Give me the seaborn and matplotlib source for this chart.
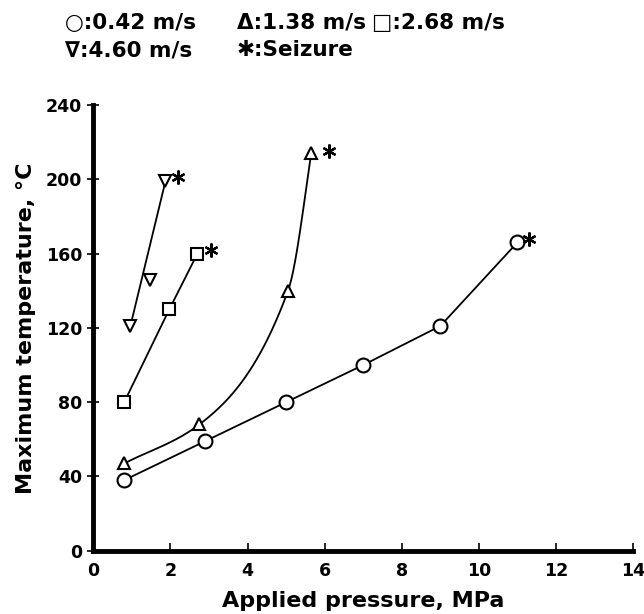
import numpy as np
import pandas as pd
import matplotlib
matplotlib.use("Agg")
import matplotlib.pyplot as plt
import seaborn as sns

# 데이터
p_042 = [0.8, 2.9, 5.0, 7.0, 9.0, 11.0]
t_042 = [38, 59, 80, 100, 121, 166]
p_138 = [0.8, 2.75, 5.05, 5.65]
t_138 = [47, 68, 140, 214]
p_268 = [0.8, 1.97, 2.7]
t_268 = [80, 130, 160]
p_460 = [0.96, 1.48, 1.87]
t_460 = [121, 146, 199]
seize_p = [11.3, 6.1, 3.05, 2.2]
seize_t = [168, 215, 162, 201]

xticks = [0, 2, 4, 6, 8, 10, 12, 14]
yticks = [0, 40, 80, 120, 160, 200, 240]


def pchip(x, y, n=200):
    # 단조 3차 보간 (1.38 m/s 곡선을 부드럽게 그리기 위함)
    x = np.asarray(x, float)
    y = np.asarray(y, float)
    h = np.diff(x)
    d = np.diff(y) / h
    m = np.zeros_like(y)
    for k in range(1, len(x) - 1):
        if d[k - 1] * d[k] > 0:
            w1 = 2 * h[k] + h[k - 1]
            w2 = h[k] + 2 * h[k - 1]
            m[k] = (w1 + w2) / (w1 / d[k - 1] + w2 / d[k])
    m[0] = d[0]  # 첫 구간은 거의 직선
    m[-1] = max(((2 * h[-1] + h[-2]) * d[-1] - h[-1] * d[-2]) / (h[-1] + h[-2]), 0)
    xs = np.linspace(x[0], x[-1], n)
    idx = np.clip(np.searchsorted(x, xs) - 1, 0, len(x) - 2)
    t = (xs - x[idx]) / h[idx]
    h00 = 2 * t**3 - 3 * t**2 + 1
    h10 = t**3 - 2 * t**2 + t
    h01 = -2 * t**3 + 3 * t**2
    h11 = t**3 - t**2
    ys = h00 * y[idx] + h10 * h[idx] * m[idx] + h01 * y[idx + 1] + h11 * h[idx] * m[idx + 1]
    return xs, ys


sns.set_style("ticks")
plt.rcParams['font.family'] = ['DejaVu Sans']
plt.rcParams['font.weight'] = 'bold'
for key in ['text.color', 'axes.labelcolor', 'axes.edgecolor', 'xtick.color', 'ytick.color']:
    plt.rcParams[key] = 'black'

fig = plt.figure(figsize=(6.44, 6.14), dpi=100)
ax = fig.add_axes([0.145, 0.103, 0.838, 0.726])

lw = 1.3
mk = dict(markerfacecolor='white', markeredgecolor='black', markeredgewidth=1.5, ls='none')

# 0.42 m/s
sns.lineplot(x=p_042, y=t_042, ax=ax, color='black', lw=lw, sort=False)
ax.plot(p_042, t_042, 'o', ms=10, **mk)

# 1.38 m/s (부드러운 곡선)
cx, cy = pchip(p_138, t_138)
ax.plot(cx, cy, color='black', lw=lw)
ax.plot(p_138, t_138, '^', ms=9, **mk)

# 2.68 m/s
sns.lineplot(x=p_268, y=t_268, ax=ax, color='black', lw=lw, sort=False)
ax.plot(p_268, t_268, 's', ms=9, **mk)

# 4.60 m/s (처음-끝 직선)
ax.plot([p_460[0], p_460[-1]], [t_460[0], t_460[-1]], color='black', lw=lw)
ax.plot(p_460, t_460, 'v', ms=9, **mk)

# Seizure
ax.plot(seize_p, seize_t, ls='none', marker=(6, 2, 0), ms=10, mew=1.6, color='black')

ax.set_xlim(0, 14)
ax.set_ylim(0, 240)
ax.set_xticks(xticks, labels=[str(v) for v in xticks], fontsize=12.5, fontweight='bold')
ax.set_yticks(yticks, labels=[str(v) for v in yticks], fontsize=12.5, fontweight='bold')
ax.tick_params(axis='x', direction='in', length=6, width=1.2, pad=8)
ax.tick_params(axis='y', direction='inout', length=8, width=1.2, pad=4)
sns.despine(ax=ax)
ax.spines['left'].set_linewidth(3.5)
ax.spines['bottom'].set_linewidth(3.5)

ax.set_xlabel("Applied pressure, MPa", fontsize=16, fontweight='bold', labelpad=8)
ax.set_ylabel("Maximum temperature, °C", fontsize=16, fontweight='bold', labelpad=7)

# 상단 범례 텍스트
fs = 15.5
row1, row2 = 0.963, 0.918
fig.text(0.101, row1, "○:0.42 m/s", fontsize=fs, fontweight='bold', va='center')
fig.text(0.368, row1, "Δ:1.38 m/s", fontsize=fs, fontweight='bold', va='center')
fig.text(0.578, row1, "□:2.68 m/s", fontsize=fs, fontweight='bold', va='center')
fig.text(0.101, row2, "∇:4.60 m/s", fontsize=fs, fontweight='bold', va='center')
fig.text(0.368, row2, "✱:Seizure", fontsize=fs, fontweight='bold', va='center')

fig.savefig("out.png", dpi=100)
